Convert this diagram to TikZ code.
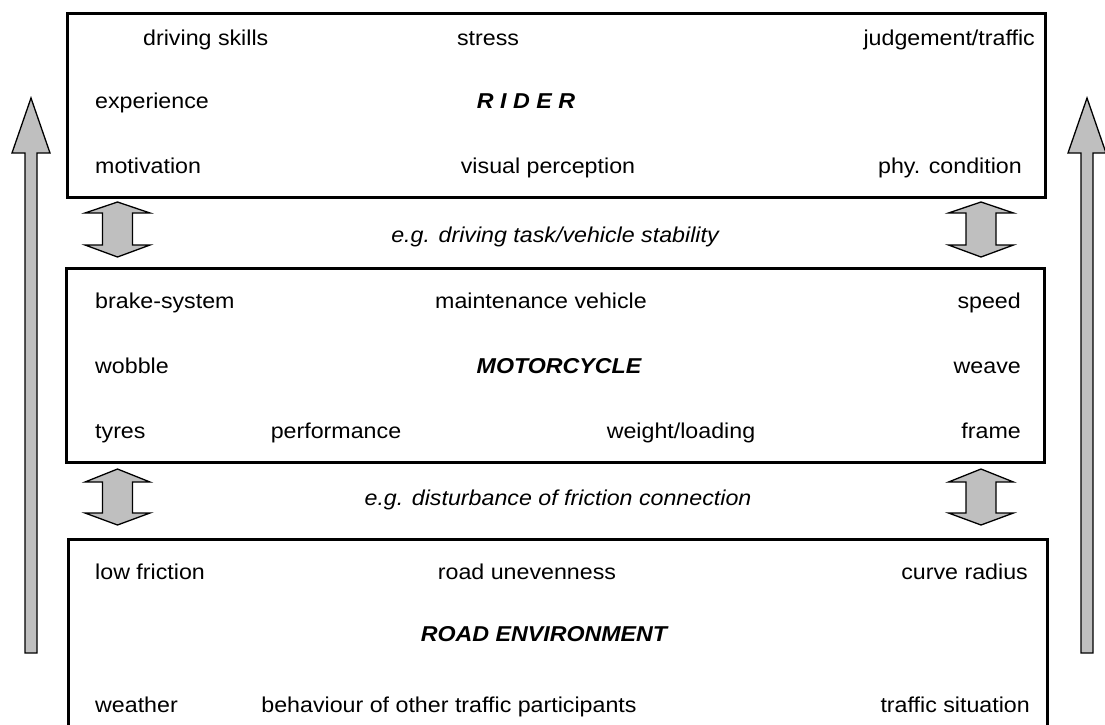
\documentclass[tikz,border=0pt]{standalone}
\usepackage{fontspec}
\setmainfont{Liberation Sans}[FakeStretch=1.08]
\begin{document}
\begin{tikzpicture}[x=1pt,y=-1pt,
  box/.style={draw=black,line width=3pt},
  blockarrow/.style={draw=black,fill=black!25,line width=1.3pt,line join=miter},
  txt/.style={font=\fontsize{21.5}{25}\selectfont,inner sep=0pt},
  tl/.style={txt,anchor=mid west},
  tc/.style={txt,anchor=mid},
  tr/.style={txt,anchor=mid east},
  title/.style={txt,anchor=mid,font=\fontsize{21.5}{25}\selectfont\bfseries\itshape},
  note/.style={txt,anchor=mid,font=\fontsize{21.5}{25}\selectfont\itshape}]
\useasboundingbox (0,0) rectangle (1105,725);
% boxes
\draw[box] (67,14) rectangle (1045,197);
\draw[box] (66,268) rectangle (1044,462);
\draw[box] (68,730) -- (68,539) -- (1047,539) -- (1047,730);
% long up arrows
\draw[blockarrow] (25,653) -- (25,153) -- (12,153) -- (31,98) -- (50,153) -- (37,153) -- (37,653) -- cycle;
\draw[blockarrow] (1081,653) -- (1081,153) -- (1068,153) -- (1087,98) -- (1106,153) -- (1093,153) -- (1093,653) -- cycle;
% double arrows
\foreach \cx/\ta/\ha/\hb/\tb in {117.5/202/213/245/257, 981/202/213/245/257, 117.5/469/482/513/525, 981/469/482/513/525}{
  \draw[blockarrow] (\cx,\ta) -- (\cx+32.5,\ha) -- (\cx+15,\ha) -- (\cx+15,\hb) -- (\cx+32.5,\hb) -- (\cx,\tb)
     -- (\cx-32.5,\hb) -- (\cx-15,\hb) -- (\cx-15,\ha) -- (\cx-32.5,\ha) -- cycle;
}
% rider
\node[tl] (ds) at (143,43) {driving skills};
\node[tc] (st) at (488,43) {stress};
\node[tr] (jt) at (1035,43) {judgement/traffic};
\node[tl] (ex) at (95,106) {experience};
\node[title] (rider) at (526,106) {R I D E R};
\node[tl] (mo) at (95,171) {motivation};
\node[tc] (vp) at (548,171) {visual perception};
\node[tr] (pc) at (1022,171) {phy. condition};
\node[note] (n1) at (555,240) {e.g. driving task/vehicle stability};
% motorcycle
\node[tl] (bs) at (95,306) {brake-system};
\node[tc] (mv) at (541,306) {maintenance vehicle};
\node[tr] (sp) at (1021,306) {speed};
\node[tl] (wo) at (95,371) {wobble};
\node[title] (moto) at (559,371) {MOTORCYCLE};
\node[tr] (we) at (1021,371) {weave};
\node[tl] (ty) at (95,436) {tyres};
\node[tc] (pe) at (336,436) {performance};
\node[tc] (wl) at (681,436) {weight/loading};
\node[tr] (fr) at (1021,436) {frame};
\node[note] (n2) at (558,503) {e.g. disturbance of friction connection};
% road
\node[tl] (lf) at (95,577) {low friction};
\node[tc] (ru) at (527,577) {road unevenness};
\node[tr] (cr) at (1028,577) {curve radius};
\node[title] (road) at (544,639) {ROAD ENVIRONMENT};
\node[tl] (wt) at (95,710) {weather};
\node[tc] (bh) at (449,710) {behaviour of other traffic participants};
\node[tr] (ts) at (1030,710) {traffic situation};
\end{tikzpicture}
\end{document}
